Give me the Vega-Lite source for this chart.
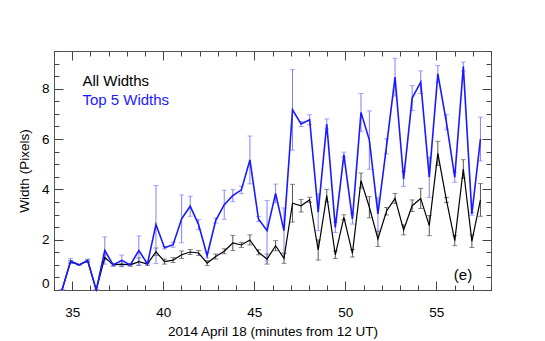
{
  "$schema": "https://vega.github.io/schema/vega-lite/v6.json",
  "width": 437,
  "height": 239,
  "autosize": {"type": "none"},
  "padding": {"left": 54, "top": 51, "right": 54, "bottom": 51},
  "background": "white",
  "config": {
    "view": {"stroke": "#555", "strokeWidth": 1},
    "axis": {
      "domain": false, "grid": false, "tickColor": "#444", "tickWidth": 1,
      "labelFont": "Liberation Sans", "labelFontSize": 13.5, "labelColor": "#000",
      "titleFont": "Liberation Sans", "titleFontSize": 13.5, "titleFontWeight": "normal", "titleColor": "#000"
    }
  },
  "data": {"values": [
    {"t": 34.44, "all": 0, "allErr": 0, "top": 0, "topErr": 0},
    {"t": 34.91, "all": 1.12, "allErr": 0.05, "top": 1.15, "topErr": 0.1},
    {"t": 35.38, "all": 1.0, "allErr": 0, "top": 1.0, "topErr": 0},
    {"t": 35.85, "all": 1.15, "allErr": 0.05, "top": 1.18, "topErr": 0.05},
    {"t": 36.32, "all": 0, "allErr": 0, "top": 0, "topErr": 0},
    {"t": 36.79, "all": 1.3, "allErr": 0.1, "top": 1.57, "topErr": 0.54},
    {"t": 37.25, "all": 1.0, "allErr": 0.05, "top": 1.0, "topErr": 0.05},
    {"t": 37.72, "all": 1.03, "allErr": 0.1, "top": 1.18, "topErr": 0.21},
    {"t": 38.19, "all": 1.0, "allErr": 0.05, "top": 1.0, "topErr": 0.05},
    {"t": 38.66, "all": 1.13, "allErr": 0.15, "top": 1.57, "topErr": 0.58},
    {"t": 39.13, "all": 1.03, "allErr": 0.05, "top": 1.04, "topErr": 0.05},
    {"t": 39.6, "all": 1.52, "allErr": 0.15, "top": 2.6, "topErr": 1.55},
    {"t": 40.07, "all": 1.13, "allErr": 0.1, "top": 1.68, "topErr": 0.05},
    {"t": 40.54, "all": 1.19, "allErr": 0.1, "top": 1.8, "topErr": 0.1},
    {"t": 41.01, "all": 1.4, "allErr": 0.15, "top": 2.83, "topErr": 0.95},
    {"t": 41.48, "all": 1.51, "allErr": 0.1, "top": 3.33, "topErr": 0.4},
    {"t": 41.94, "all": 1.47, "allErr": 0.1, "top": 2.6, "topErr": 0.2},
    {"t": 42.41, "all": 1.07, "allErr": 0.1, "top": 1.37, "topErr": 0.1},
    {"t": 42.88, "all": 1.33, "allErr": 0.1, "top": 2.76, "topErr": 0.1},
    {"t": 43.35, "all": 1.54, "allErr": 0.1, "top": 3.39, "topErr": 0.58},
    {"t": 43.82, "all": 1.87, "allErr": 0.3, "top": 3.75, "topErr": 0.24},
    {"t": 44.29, "all": 1.79, "allErr": 0.1, "top": 3.98, "topErr": 0.15},
    {"t": 44.76, "all": 1.99, "allErr": 0.2, "top": 5.17, "topErr": 0.95},
    {"t": 45.23, "all": 1.5, "allErr": 0.1, "top": 2.82, "topErr": 0.1},
    {"t": 45.7, "all": 1.23, "allErr": 0.2, "top": 2.36, "topErr": 1.2},
    {"t": 46.17, "all": 1.76, "allErr": 0.2, "top": 3.84, "topErr": 0.37},
    {"t": 46.63, "all": 1.26, "allErr": 0.2, "top": 2.36, "topErr": 0.9},
    {"t": 47.1, "all": 3.45, "allErr": 0.75, "top": 7.16, "topErr": 1.6},
    {"t": 47.57, "all": 3.35, "allErr": 0.25, "top": 6.6, "topErr": 0.1},
    {"t": 48.04, "all": 3.59, "allErr": 0.1, "top": 6.77, "topErr": 0.2},
    {"t": 48.51, "all": 1.59, "allErr": 0.4, "top": 3.09, "topErr": 0.73},
    {"t": 48.98, "all": 3.75, "allErr": 0.25, "top": 6.6, "topErr": 0.2},
    {"t": 49.45, "all": 1.4, "allErr": 0.15, "top": 2.49, "topErr": 0.2},
    {"t": 49.92, "all": 2.89, "allErr": 0.1, "top": 5.38, "topErr": 0.1},
    {"t": 50.39, "all": 1.46, "allErr": 0.15, "top": 2.82, "topErr": 0.2},
    {"t": 50.86, "all": 4.35, "allErr": 0.3, "top": 7.06, "topErr": 0.75},
    {"t": 51.32, "all": 3.29, "allErr": 0.42, "top": 5.96, "topErr": 1.16},
    {"t": 51.79, "all": 2.03, "allErr": 0.3, "top": 3.02, "topErr": 0.64},
    {"t": 52.26, "all": 3.13, "allErr": 0.15, "top": 5.71, "topErr": 0.3},
    {"t": 52.73, "all": 3.64, "allErr": 0.2, "top": 8.46, "topErr": 0.75},
    {"t": 53.2, "all": 2.39, "allErr": 0.2, "top": 4.41, "topErr": 0.3},
    {"t": 53.67, "all": 3.35, "allErr": 0.23, "top": 7.63, "topErr": 0.5},
    {"t": 54.14, "all": 3.64, "allErr": 0.4, "top": 8.26, "topErr": 0.45},
    {"t": 54.61, "all": 2.56, "allErr": 0.4, "top": 4.48, "topErr": 0.8},
    {"t": 55.08, "all": 5.43, "allErr": 0.48, "top": 8.59, "topErr": 0.33},
    {"t": 55.55, "all": 3.58, "allErr": 0.1, "top": 6.67, "topErr": 0.3},
    {"t": 56.01, "all": 1.96, "allErr": 0.2, "top": 4.48, "topErr": 0.2},
    {"t": 56.48, "all": 4.81, "allErr": 0.37, "top": 8.88, "topErr": 0.18},
    {"t": 56.95, "all": 1.94, "allErr": 0.25, "top": 3.02, "topErr": 0.05},
    {"t": 57.42, "all": 3.58, "allErr": 0.65, "top": 6.0, "topErr": 0.87}
  ]},
  "resolve": {"axis": {"x": "independent", "y": "independent"}},
  "layer": [
    {
      "mark": {"type": "errorbar", "ticks": {"size": 5}, "color": "#555"},
      "encoding": {
        "x": {"field": "t", "type": "quantitative", "scale": {"domain": [34, 58], "nice": false, "zero": false},
          "axis": {"orient": "bottom", "values": [35, 40, 45, 50, 55], "tickSize": -9, "labelPadding": 24, "title": "2014 April 18 (minutes from 12 UT)", "titlePadding": 6}},
        "y": {"field": "all", "type": "quantitative", "scale": {"domain": [0, 9.5], "nice": false, "zero": false},
          "axis": {"orient": "left", "values": [0, 2, 4, 6, 8], "tickSize": -9, "labelPadding": 14, "labelFlush": true, "title": "Width (Pixels)", "titlePadding": 10}},
        "yError": {"field": "allErr"}
      }
    },
    {
      "mark": {"type": "errorbar", "ticks": {"size": 5}, "color": "#8080ff"},
      "encoding": {
        "x": {"field": "t", "type": "quantitative",
          "axis": {"orient": "bottom", "values": [34,35,36,37,38,39,40,41,42,43,44,45,46,47,48,49,50,51,52,53,54,55,56,57,58], "tickSize": -5, "labels": false, "title": null}},
        "y": {"field": "top", "type": "quantitative",
          "axis": {"orient": "left", "values": [0,0.5,1,1.5,2,2.5,3,3.5,4,4.5,5,5.5,6,6.5,7,7.5,8,8.5,9,9.5], "tickSize": -5, "labels": false, "title": null}},
        "yError": {"field": "topErr"}
      }
    },
    {
      "mark": {"type": "line", "color": "#000", "strokeWidth": 1.2},
      "encoding": {
        "x": {"field": "t", "type": "quantitative",
          "axis": {"orient": "top", "values": [35, 40, 45, 50, 55], "tickSize": -9, "labels": false, "title": null}},
        "y": {"field": "all", "type": "quantitative",
          "axis": {"orient": "right", "values": [0, 2, 4, 6, 8], "tickSize": -9, "labels": false, "title": null}}
      }
    },
    {
      "mark": {"type": "line", "color": "#1a1aff", "strokeWidth": 1.6},
      "encoding": {
        "x": {"field": "t", "type": "quantitative",
          "axis": {"orient": "top", "values": [34,35,36,37,38,39,40,41,42,43,44,45,46,47,48,49,50,51,52,53,54,55,56,57,58], "tickSize": -5, "labels": false, "title": null}},
        "y": {"field": "top", "type": "quantitative",
          "axis": {"orient": "right", "values": [0,0.5,1,1.5,2,2.5,3,3.5,4,4.5,5,5.5,6,6.5,7,7.5,8,8.5,9,9.5], "tickSize": -5, "labels": false, "title": null}}
      }
    },
    {
      "data": {"values": [{}]},
      "mark": {"type": "text", "text": "All Widths", "align": "left", "baseline": "alphabetic", "font": "Liberation Sans", "fontSize": 15, "color": "#000"},
      "encoding": {
        "x": {"datum": 35.56, "type": "quantitative", "axis": null},
        "y": {"datum": 8.09, "type": "quantitative", "axis": null}
      }
    },
    {
      "data": {"values": [{}]},
      "mark": {"type": "text", "text": "Top 5 Widths", "align": "left", "baseline": "alphabetic", "font": "Liberation Sans", "fontSize": 15, "color": "#1a1aff"},
      "encoding": {
        "x": {"datum": 35.56, "type": "quantitative", "axis": null},
        "y": {"datum": 7.37, "type": "quantitative", "axis": null}
      }
    },
    {
      "data": {"values": [{}]},
      "mark": {"type": "text", "text": "(e)", "align": "left", "baseline": "alphabetic", "font": "Liberation Sans", "fontSize": 15, "color": "#000"},
      "encoding": {
        "x": {"datum": 55.96, "type": "quantitative", "axis": null},
        "y": {"datum": 0.38, "type": "quantitative", "axis": null}
      }
    }
  ]
}
